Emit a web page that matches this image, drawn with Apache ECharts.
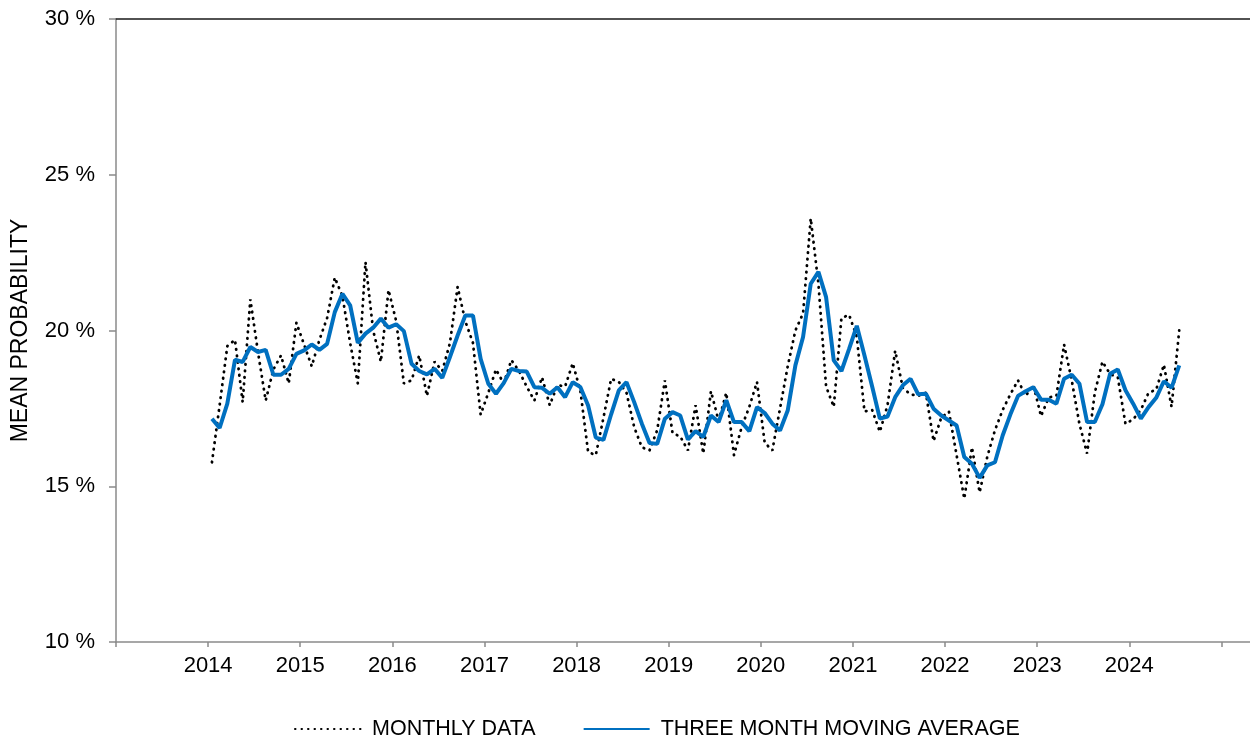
<!DOCTYPE html>
<html>
<head>
<meta charset="utf-8">
<script src="https://cdn.jsdelivr.net/npm/echarts@6/dist/echarts.min.js"></script>
<style>
html,body{margin:0;padding:0;background:#fff;}
#chart{width:1250px;height:746px;}
</style>
</head>
<body>
<div id="chart"></div>
<script>
// Monthly series start: January 2014, one value per month through July 2024
var startYear = 2014;
var yearLabels = [2014, 2015, 2016, 2017, 2018, 2019, 2020, 2021, 2022, 2023, 2024];
var yearTicks = [2013, 2014, 2015, 2016, 2017, 2018, 2019, 2020, 2021, 2022, 2023, 2024, 2025];

var monthlyData = [
  15.77, 17.6, 19.5, 19.7, 17.7, 21.0, 19.3, 17.75, 18.75, 19.2,
  18.3, 20.25, 19.55, 18.85, 19.7, 20.4, 21.7, 21.1, 19.6, 18.3,
  22.2, 20.0, 19.0, 21.3, 20.3, 18.3, 18.4, 19.2, 17.9, 19.0,
  18.7, 19.6, 21.4, 20.3, 19.6, 17.3, 18.0, 18.75, 18.3, 19.05,
  18.7, 18.2, 17.75, 18.5, 17.6, 18.25, 18.2, 18.95, 18.05, 16.1,
  16.0, 17.2, 18.45, 18.35, 18.0, 16.9, 16.25, 16.15, 16.8, 18.4,
  16.7, 16.6, 16.15, 17.6, 16.05, 18.05, 17.1, 18.0, 16.0, 16.9,
  17.55, 18.35, 16.4, 16.15, 17.5, 18.85, 20.0, 20.55, 23.6, 21.5,
  18.2, 17.55, 20.4, 20.5, 19.8, 17.4, 17.45, 16.75, 17.6, 19.35,
  18.15, 17.95, 17.9, 18.0, 16.45, 17.2, 17.4, 16.0, 14.6, 16.25,
  14.8, 15.95, 16.8, 17.45, 17.95, 18.4, 17.9, 18.25, 17.25, 17.85,
  17.9, 19.55, 18.4, 17.0, 16.05, 18.0, 19.0, 18.6, 18.5, 17.0,
  17.15, 17.45, 18.0, 18.1, 18.9, 17.55, 20.0
];

var movingAverage = [
  17.17, 16.87, 17.65, 19.06, 18.99, 19.47, 19.31, 19.38, 18.58, 18.58,
  18.77, 19.25, 19.36, 19.55, 19.38, 19.57, 20.59, 21.18, 20.81, 19.6,
  19.9, 20.09, 20.38, 20.09, 20.2, 19.98, 18.93, 18.7, 18.59, 18.77,
  18.48, 19.15, 19.84, 20.48, 20.48, 19.09, 18.29, 17.97, 18.31, 18.77,
  18.7, 18.68, 18.18, 18.16, 17.97, 18.18, 17.86, 18.34, 18.18, 17.59,
  16.56, 16.49, 17.31, 18.08, 18.34, 17.7, 17.01, 16.39, 16.36, 17.17,
  17.38, 17.27, 16.5, 16.77, 16.58, 17.27, 17.06, 17.76, 17.06, 17.06,
  16.77, 17.54, 17.35, 17.01, 16.79, 17.43, 18.88, 19.79, 21.5, 21.88,
  21.07, 19.04, 18.7, 19.41, 20.15, 19.2, 18.2, 17.17, 17.24, 17.86,
  18.24, 18.45, 17.95, 17.97, 17.49, 17.27, 17.11, 16.95, 15.94, 15.72,
  15.27, 15.67, 15.77, 16.63, 17.3, 17.9, 18.05, 18.18, 17.78, 17.78,
  17.65, 18.45, 18.58, 18.29, 17.06, 17.06, 17.63, 18.61, 18.75, 18.08,
  17.65, 17.17, 17.54, 17.84, 18.37, 18.16, 18.88
];

var seriesNames = ['MONTHLY DATA', 'THREE MONTH MOVING AVERAGE'];
var yTicks = [10, 15, 20, 25, 30];

function toPoints(values) {
  return values.map(function (v, i) {
    return [startYear + (i + 0.5) / 12, v];
  });
}

var chart = echarts.init(document.getElementById('chart'), null, { renderer: 'canvas' });
var FONT = 'Liberation Sans, Arial, sans-serif';

var option = {
  animation: false,
  backgroundColor: '#ffffff',
  grid: { left: 116, right: 0, top: 19, bottom: 104, containLabel: false, outerBoundsMode: 'none' },
  legend: {
    left: 289,
    top: 713,
    itemWidth: 66,
    itemHeight: 22,
    itemGap: 47,
    itemStyle: { opacity: 0 },
    textStyle: { fontFamily: FONT, fontSize: 21.5, color: '#000', padding: [0, 0, 0, 6] },
    data: seriesNames
  },
  xAxis: [
    {
      type: 'value',
      min: 2013,
      max: 2025.31,
      position: 'bottom',
      axisLine: { show: true, lineStyle: { color: '#8a8a8a', width: 1.5 } },
      axisTick: { show: true, length: 5, customValues: yearTicks, lineStyle: { color: '#8a8a8a', width: 1.5 } },
      splitLine: { show: false },
      axisLabel: {
        margin: 13,
        fontFamily: FONT,
        fontSize: 22,
        color: '#000',
        customValues: yearLabels,
        formatter: function (v) { return String(Math.round(v)); }
      }
    },
    {
      type: 'value',
      min: 2013,
      max: 2025.31,
      position: 'top',
      axisLine: { show: true, lineStyle: { color: '#1a1a1a', width: 1.5 } },
      axisTick: { show: false },
      axisLabel: { show: false },
      splitLine: { show: false }
    }
  ],
  yAxis: {
    type: 'value',
    min: yTicks[0],
    max: yTicks[yTicks.length - 1],
    interval: 5,
    name: 'MEAN PROBABILITY',
    nameLocation: 'middle',
    nameGap: 84,
    nameRotate: 90,
    nameTextStyle: { fontFamily: FONT, fontSize: 23, color: '#000' },
    axisLine: { show: true, lineStyle: { color: '#8a8a8a', width: 1.5 } },
    axisTick: { show: true, length: 7, lineStyle: { color: '#8a8a8a', width: 1.5 } },
    splitLine: { show: false },
    axisLabel: {
      margin: 21,
      fontFamily: FONT,
      fontSize: 22,
      color: '#000',
      formatter: function (v) { return v + ' %'; }
    }
  },
  series: [
    {
      name: seriesNames[0],
      type: 'line',
      xAxisIndex: 0,
      data: toPoints(monthlyData),
      showSymbol: false,
      symbol: 'none',
      lineStyle: { color: '#000', width: 2.8, type: [0.5, 6], cap: 'round' },
      itemStyle: { color: '#000' },
      z: 2
    },
    {
      name: seriesNames[1],
      type: 'line',
      xAxisIndex: 0,
      data: toPoints(movingAverage),
      showSymbol: false,
      symbol: 'none',
      lineStyle: { color: '#0070c0', width: 4 },
      itemStyle: { color: '#0070c0' },
      z: 3
    }
  ]
};

chart.setOption(option);
</script>
</body>
</html>
